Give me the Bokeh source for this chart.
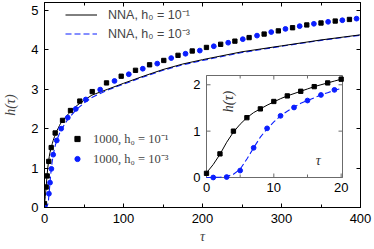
from bokeh.plotting import figure
from bokeh.models import (Range1d, LinearAxis, Legend, LegendItem, Label,
                          FixedTicker, CustomJSTickFormatter)
from bokeh.core.properties import value
from bokeh.embed import file_html
from bokeh.resources import INLINE

# ---------------- data ----------------
# NNA curves (tau, h) for h0 = 1e-1 and h0 = 1e-3
tau_nna = [0, 1, 2, 3, 4, 5, 6, 7, 8, 9, 10, 11, 12, 13, 14, 15, 16, 17, 18, 19, 20,
           25, 30, 40, 50, 60, 80, 100, 125, 150, 175, 200, 250, 300, 350, 400]
h_nna_1 = [0.10, 0.28, 0.50, 0.76, 0.98, 1.15, 1.29, 1.40, 1.48, 1.56, 1.63, 1.70, 1.76,
           1.81, 1.86, 1.91, 1.96, 2.00, 2.04, 2.08, 2.12,
           2.25, 2.37, 2.57, 2.72, 2.85, 3.00, 3.15, 3.33, 3.50, 3.64, 3.75, 3.95, 4.10, 4.25, 4.38]
h_nna_3 = [0.0, 0.0, 0.005, 0.02, 0.07, 0.18, 0.40, 0.64, 0.87, 1.05, 1.20, 1.33, 1.43,
           1.52, 1.60, 1.66, 1.72, 1.78, 1.83, 1.88, 1.92,
           2.10, 2.25, 2.48, 2.65, 2.79, 2.98, 3.13, 3.31, 3.48, 3.62, 3.73, 3.93, 4.09, 4.24, 4.37]

# simulation markers (N = 1000), main panel
tau_m1 = [0, 2.1, 3.4, 5.4, 8.5, 13.5, 22.8, 32.9, 44.7, 60.4, 78.5, 97.1, 115.2, 133,
          151, 169, 187, 205, 223, 241, 259, 278, 296, 314, 332, 350, 368, 386]
h_m1 = [0.10, 0.52, 0.80, 1.17, 1.52, 1.89, 2.21, 2.46, 2.70, 2.94, 3.16, 3.33, 3.48, 3.62,
        3.73, 3.86, 3.97, 4.06, 4.14, 4.22, 4.31, 4.40, 4.48, 4.56, 4.63, 4.68, 4.73, 4.77]
tau_m3 = [0, 5.6, 7, 8.7, 11, 15.5, 21.1, 29.5, 39.6, 52.3, 70.5, 88.6, 106.7, 124.4,
          142.7, 160.4, 178.5, 196.6, 214.3, 232.5, 251, 269, 287, 305, 323, 341, 359, 377, 395]
h_m3 = [0.0, 0.35, 0.63, 0.98, 1.34, 1.70, 2.00, 2.28, 2.50, 2.74, 2.99, 3.21, 3.38, 3.52,
        3.65, 3.79, 3.90, 3.98, 4.09, 4.18, 4.27, 4.36, 4.45, 4.53, 4.60, 4.66, 4.71, 4.75, 4.79]

# inset markers
tau_i1 = [0, 2, 4, 6, 8, 10, 12, 14, 16, 18, 20]
h_i1 = [0.09, 0.51, 1.00, 1.29, 1.48, 1.64, 1.76, 1.86, 1.96, 2.04, 2.12]
tau_i3 = [1, 3, 5, 7, 9, 11, 13, 15, 17, 19]
h_i3 = [0.0, 0.01, 0.15, 0.64, 1.06, 1.33, 1.51, 1.66, 1.78, 1.89]

# ticks and labels
x_ticks = [0, 100, 200, 300, 400]
x_minor = [50, 150, 250, 350]
y_ticks = [0, 1, 2, 3, 4, 5]
ix_ticks = [0, 10, 20]
ix_minor = [5, 15]
iy_ticks = [0, 1, 2]
ix_tick_labels = ["0", "10", "20"]
iy_tick_labels = ["0", "1", "2"]

labels_nna = ["NNA, h\u2080 = 10\u207b\u00b9", "NNA, h\u2080 = 10\u207b\u00b3"]
labels_sim = ["1000, h\u2080 = 10\u207b\u00b9", "1000, h\u2080 = 10\u207b\u00b3"]
x_label = "\u03c4"
y_label = "h(\u03c4)"

BLACK = "#000000"
BLUE = "#0a1eff"
GRAY = "#6b6b6b"
SANS = "Liberation Sans"
SERIF = "Liberation Serif"

# ---------------- geometry (pixels) ----------------
W, H = 374, 249
ML, MR, MT, MB = 44, 14, 2, 42           # main borders
FL, FR, FT, FB = ML, W - MR, MT, H - MB   # main frame edges
IL, IR, IT, IB = 206, 342, 75, 177        # inset frame edges
X0, X1, Y0, Y1 = 0, 400, 0, 5.2           # main ranges
IX0, IX1, IY0, IY1 = 0, 20.2, 0, 2.2      # inset ranges

# extra ranges mapping the inset data onto the inset box of the main frame
span_x = (IX1 - IX0) * (FR - FL) / (IR - IL)
ix_start = IX0 - (IL - FL) / (FR - FL) * span_x
span_y = (IY1 - IY0) * (FB - FT) / (IB - IT)
iy_start = IY0 - (FB - IB) / (FB - FT) * span_y

blank = CustomJSTickFormatter(code="return ''")


def style_axis(ax, labels=True, standoff=6):
    ax.axis_line_color = "black"
    ax.major_tick_line_color = "black"
    ax.minor_tick_line_color = "black"
    ax.major_tick_in = 4
    ax.major_tick_out = 0
    ax.minor_tick_in = 3
    ax.minor_tick_out = 0
    ax.major_label_text_font = SANS
    ax.major_label_text_font_size = "13px"
    ax.major_label_text_color = "black"
    if labels:
        ax.major_label_standoff = standoff
    else:
        ax.formatter = blank
        ax.major_label_standoff = 0


# ---------------- main figure ----------------
p = figure(width=W, height=H, x_range=Range1d(X0, X1), y_range=Range1d(Y0, Y1),
           output_backend="svg", toolbar_location=None,
           min_border_left=ML, min_border_right=MR, min_border_top=MT, min_border_bottom=MB)
p.extra_x_ranges = {"ix": Range1d(ix_start, ix_start + span_x)}
p.extra_y_ranges = {"iy": Range1d(iy_start, iy_start + span_y)}
p.xgrid.visible = False
p.ygrid.visible = False
p.outline_line_color = "black"
p.background_fill_color = "white"

p.add_layout(LinearAxis(), "above")
p.add_layout(LinearAxis(), "right")
for ax in p.xaxis:
    ax.ticker = FixedTicker(ticks=x_ticks, minor_ticks=x_minor)
for ax in p.yaxis:
    ax.ticker = FixedTicker(ticks=y_ticks)
style_axis(p.below[0])
style_axis(p.left[0])
style_axis(p.above[0], labels=False)
style_axis(p.right[0], labels=False)

p.below[0].axis_label = x_label
p.below[0].axis_label_text_font = SERIF
p.below[0].axis_label_text_font_style = "italic"
p.below[0].axis_label_text_font_size = "14px"
p.below[0].axis_label_standoff = 3
p.left[0].axis_label = y_label
p.left[0].axis_label_text_font = SERIF
p.left[0].axis_label_text_font_style = "italic"
p.left[0].axis_label_text_font_size = "14px"
p.left[0].axis_label_standoff = 10

r_l3 = p.line(tau_nna, h_nna_3, line_color=BLUE, line_width=1.1, line_dash="6 3")
r_l1 = p.line(tau_nna, h_nna_1, line_color=BLACK, line_width=1.0)
r_s1 = p.scatter(tau_m1, h_m1, marker="square", size=4.3, fill_color=BLACK, line_color=BLACK)
r_s3 = p.scatter(tau_m3, h_m3, marker="circle", size=4.8, fill_color=BLUE, line_color=BLUE)

leg1 = Legend(items=[LegendItem(label=labels_nna[0], renderers=[r_l1]),
                     LegendItem(label=labels_nna[1], renderers=[r_l3])],
              location=(21, 165), padding=0, margin=0, spacing=2,
              glyph_width=32, glyph_height=13, label_height=13, label_standoff=11,
              border_line_color=None, background_fill_alpha=0,
              label_text_font=SANS, label_text_font_size="12.5px")
leg2 = Legend(items=[LegendItem(label=labels_sim[0], renderers=[r_s1]),
                     LegendItem(label=labels_sim[1], renderers=[r_s3])],
              location=(25, 40), padding=0, margin=0, spacing=3,
              glyph_width=16, glyph_height=13, label_height=13, label_standoff=8,
              border_line_color=None, background_fill_alpha=0,
              label_text_font=SERIF, label_text_font_size="12.5px")
p.add_layout(leg1)
p.add_layout(leg2)

# ---------------- inset (drawn on the extra ranges) ----------------
ins = dict(x_range_name="ix", y_range_name="iy")
p.quad(left=IX0, right=IX1, bottom=IY0, top=IY1, fill_color="white",
       line_color=GRAY, line_width=1, **ins)

# inward ticks on all four sides
p.ray(x=ix_ticks, y=[IY0] * len(ix_ticks), length=4, angle=90, angle_units="deg",
      length_units="screen", line_color=GRAY, **ins)
p.ray(x=ix_ticks, y=[IY1] * len(ix_ticks), length=4, angle=-90, angle_units="deg",
      length_units="screen", line_color=GRAY, **ins)
p.ray(x=ix_minor, y=[IY0] * len(ix_minor), length=3, angle=90, angle_units="deg",
      length_units="screen", line_color=GRAY, **ins)
p.ray(x=ix_minor, y=[IY1] * len(ix_minor), length=3, angle=-90, angle_units="deg",
      length_units="screen", line_color=GRAY, **ins)
p.ray(x=[IX0] * len(iy_ticks), y=iy_ticks, length=4, angle=0, angle_units="deg",
      length_units="screen", line_color=GRAY, **ins)
p.ray(x=[IX1] * len(iy_ticks), y=iy_ticks, length=4, angle=180, angle_units="deg",
      length_units="screen", line_color=GRAY, **ins)

# tick labels
p.text(x=ix_ticks, y=[IY0] * len(ix_ticks), text=ix_tick_labels, y_offset=5,
       text_align="center", text_baseline="top", text_font=value(SANS),
       text_font_size="13px", text_color="black", **ins)
p.text(x=[IX0] * len(iy_ticks), y=iy_ticks, text=iy_tick_labels, x_offset=-6,
       text_align="right", text_baseline="middle", text_font=value(SANS),
       text_font_size="13px", text_color="black", **ins)

# inset curves and markers
p.line(tau_nna[:21], h_nna_3[:21], line_color=BLUE, line_width=1.1, line_dash="6 3", **ins)
p.line(tau_nna[:21], h_nna_1[:21], line_color=BLACK, line_width=1.0, **ins)
p.scatter(tau_i1, h_i1, marker="square", size=4.3, fill_color=BLACK, line_color=BLACK, **ins)
p.scatter(tau_i3, h_i3, marker="circle", size=4.8, fill_color=BLUE, line_color=BLUE, **ins)

# inset axis labels (inside the box)
p.add_layout(Label(x=3.3, y=1.64, text=y_label, angle=90, angle_units="deg",
                   text_align="center", text_baseline="middle", text_font=SERIF,
                   text_font_style="italic", text_font_size="14px",
                   text_color="#333333", **ins))
p.add_layout(Label(x=16.6, y=0.37, text=x_label, text_align="center",
                   text_baseline="middle", text_font=SERIF, text_font_style="italic",
                   text_font_size="14px", text_color="#333333", **ins))

open("out.html", "w").write(file_html(p, INLINE))
